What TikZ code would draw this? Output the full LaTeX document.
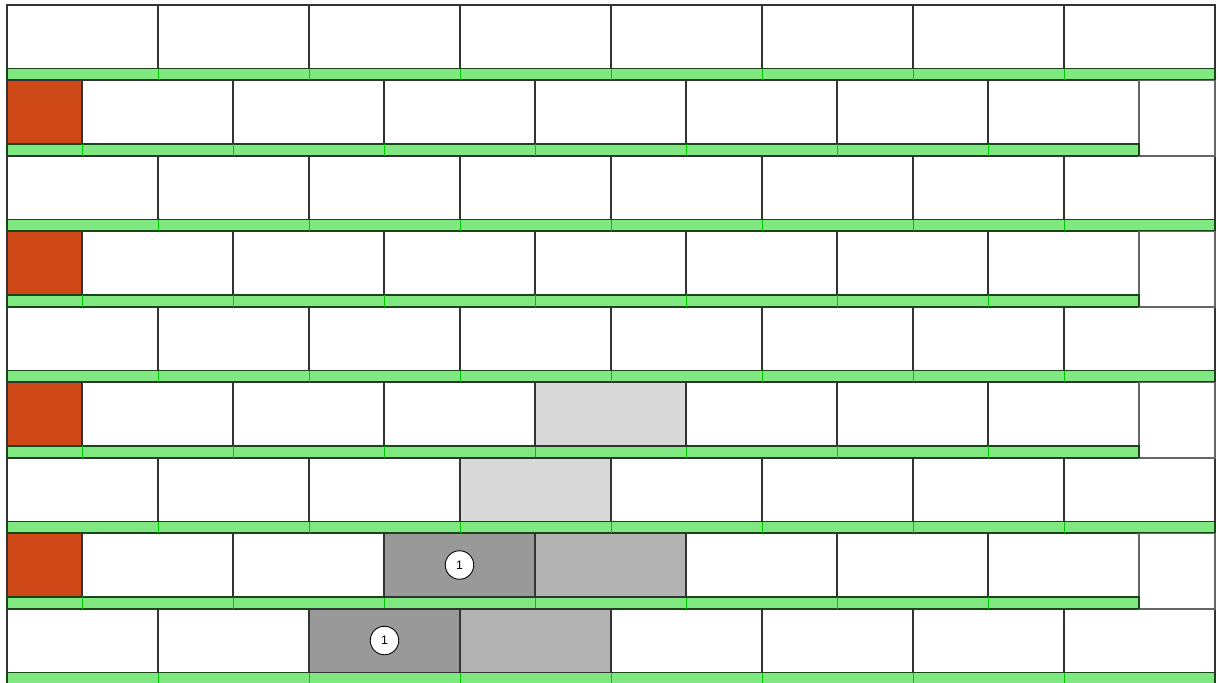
\documentclass[tikz,border=0pt]{standalone}
\usepackage{fontspec}
\setmainfont{Liberation Sans}
\definecolor{mortar}{RGB}{128,232,128}
\definecolor{mortarline}{RGB}{25,70,25}
\definecolor{joint}{RGB}{0,200,0}
\definecolor{corner}{RGB}{207,73,24}
\definecolor{lightbrick}{RGB}{217,217,217}
\definecolor{midbrick}{RGB}{179,179,179}
\definecolor{darkbrick}{RGB}{153,153,153}
\tikzset{
  brick/.style={draw=black!80,line width=0.6pt},
  strip/.style={draw=mortarline,fill=mortar,line width=0.6pt},
  mark1/.style={circle,draw=black,fill=white,line width=0.5pt,minimum size=0.57cm,inner sep=0pt,font=\scriptsize}
}
\begin{document}
\begin{tikzpicture}[x=0.02cm,y=-0.02cm]
\useasboundingbox (0,0) rectangle (1218,683);
% full rows
\foreach \r in {0,2,4,6,8} {
  \foreach \c in {0,...,7}
    \draw[brick] (7+151*\c,5+75.5*\r) rectangle ++(151,63.5);
  \draw[strip] (7,68.5+75.5*\r) rectangle (1215,80+75.5*\r);
  \foreach \c in {1,...,7}
    \draw[joint] (7+151*\c,68.5+75.5*\r) -- ++(0,11.5);
}
% offset rows
\foreach \r in {1,3,5,7} {
  \draw[brick,fill=corner] (7,5+75.5*\r) rectangle ++(75,63.5);
  \foreach \c in {0,...,6}
    \draw[brick] (82+151*\c,5+75.5*\r) rectangle ++(151,63.5);
  \draw[brick,draw=black!60] (1139,5+75.5*\r) rectangle ++(76,75.5);
  \draw[strip] (7,68.5+75.5*\r) rectangle (1139,80+75.5*\r);
  \foreach \c in {0,...,6}
    \draw[joint] (82+151*\c,68.5+75.5*\r) -- ++(0,11.5);
}
% shaded bricks
\draw[brick,fill=lightbrick] (535,382.5) rectangle ++(151,63.5);
\draw[brick,fill=lightbrick] (460,458) rectangle ++(151,63.5);
\draw[brick,fill=darkbrick] (384,533.5) rectangle ++(151,63.5);
\draw[brick,fill=midbrick] (535,533.5) rectangle ++(151,63.5);
\draw[brick,fill=darkbrick] (309,609) rectangle ++(151,63.5);
\draw[brick,fill=midbrick] (460,609) rectangle ++(151,63.5);
\node[mark1] (m1) at (459.5,565) {1};
\node[mark1] (m2) at (384.5,640.5) {1};
\end{tikzpicture}
\end{document}
